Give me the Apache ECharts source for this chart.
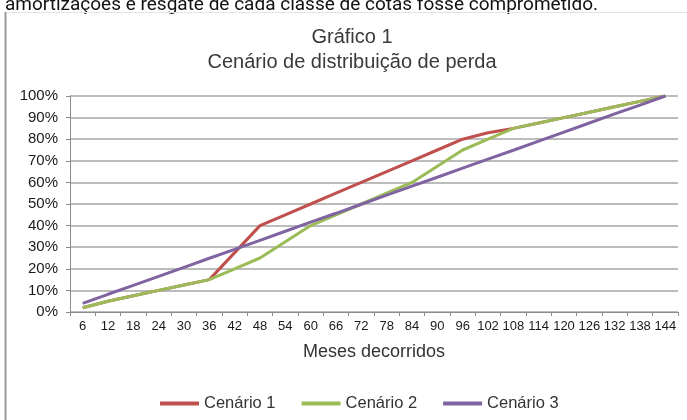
<!DOCTYPE html>
<html>
<head>
<meta charset="utf-8">
<script src="https://cdn.jsdelivr.net/npm/echarts@6/dist/echarts.min.js"></script>
<style>
  html, body { margin: 0; padding: 0; background: #fff; }
  #chart { width: 687px; height: 420px; }
</style>
</head>
<body>
<div id="chart"></div>
<script>
// Months elapsed (x categories)
const meses = ['6','12','18','24','30','36','42','48','54','60','66','72','78','84','90','96','102','108','114','120','126','132','138','144'];

// Cumulative loss distribution per scenario (%)
const cenario1 = [2, 5, 7.5, 10, 12.5, 15, 27.5, 40, 45, 50, 55, 60, 65, 70, 75, 80, 83, 85, 87.5, 90, 92.5, 95, 97.5, 100];
const cenario2 = [2, 5, 7.5, 10, 12.5, 15, 20, 25, 32.5, 40, 45, 50, 55, 60, 67.5, 75, 80, 85, 87.5, 90, 92.5, 95, 97.5, 100];
const cenario3 = [4, 8.2, 12.3, 16.5, 20.7, 24.9, 29, 33.2, 37.4, 41.6, 45.7, 49.9, 54.1, 58.3, 62.4, 66.6, 70.8, 74.9, 79.1, 83.3, 87.5, 91.7, 95.8, 100];

const nomes = ['Cenário 1', 'Cenário 2', 'Cenário 3'];
const cores = ['#C0504D', '#9BBB59', '#8064A2'];

const fonte = '"Liberation Sans", Arial, sans-serif';

const chart = echarts.init(document.getElementById('chart'), null, { renderer: 'canvas' });

chart.setOption({
  animation: false,
  backgroundColor: '#ffffff',
  graphic: [
    // preceding paragraph line, partly cut off at the top
    { type: 'text', z: 10, style: { text: 'amortizações e resgate de cada classe de cotas fosse comprometido.', x: 5, y: 5,
        verticalAlign: 'middle', align: 'left', font: '19px Roboto, "Liberation Sans", sans-serif', fill: '#111' } },
    // frame around the chart
    { type: 'line', z: 10, shape: { x1: 5, y1: 12.5, x2: 687, y2: 12.5 }, style: { stroke: '#e4e4e4', lineWidth: 1 } },
    { type: 'line', z: 10, shape: { x1: 5.5, y1: 12, x2: 5.5, y2: 420 }, style: { stroke: '#9a9a9a', lineWidth: 2 } },
    // titles
    { type: 'text', z: 10, style: { text: 'Gráfico 1', x: 352, y: 37, align: 'center', verticalAlign: 'middle',
        font: '20px ' + fonte, fill: '#3a3a3a' } },
    { type: 'text', z: 10, style: { text: 'Cenário de distribuição de perda', x: 352, y: 62, align: 'center', verticalAlign: 'middle',
        font: '20px ' + fonte, fill: '#3a3a3a' } }
  ],
  legend: {
    data: nomes,
    left: 155,
    top: 390,
    icon: 'rect',
    itemWidth: 39,
    itemHeight: 4,
    itemGap: 26,
    textStyle: { fontFamily: fonte, fontSize: 16.5, color: '#333' }
  },
  grid: { left: 70, right: 9, top: 96, bottom: 108, containLabel: false },
  xAxis: {
    type: 'category',
    data: meses,
    boundaryGap: true,
    name: 'Meses decorridos',
    nameLocation: 'middle',
    nameGap: 31,
    nameTextStyle: { fontFamily: fonte, fontSize: 18, color: '#333', verticalAlign: 'top' },
    axisLine: { lineStyle: { color: '#8c8c8c', width: 1 } },
    axisTick: { show: true, length: 4, lineStyle: { color: '#8c8c8c' } },
    axisLabel: { interval: 0, margin: 8, fontFamily: fonte, fontSize: 13, color: '#1a1a1a' },
    splitLine: { show: false }
  },
  yAxis: {
    type: 'value',
    min: 0,
    max: 100,
    interval: 10,
    axisLine: { show: true, lineStyle: { color: '#8c8c8c', width: 1 } },
    axisTick: { show: true, length: 4, lineStyle: { color: '#8c8c8c' } },
    axisLabel: { margin: 12, fontFamily: fonte, fontSize: 15, color: '#1a1a1a', formatter: '{value}%' },
    splitLine: { show: true, lineStyle: { color: '#a6a6a6', width: 1.5 } }
  },
  series: [cenario1, cenario2, cenario3].map((d, i) => ({
    name: nomes[i],
    type: 'line',
    data: d,
    showSymbol: false,
    symbol: 'none',
    smooth: false,
    lineStyle: { color: cores[i], width: 3 },
    itemStyle: { color: cores[i] }
  }))
});
</script>
</body>
</html>
